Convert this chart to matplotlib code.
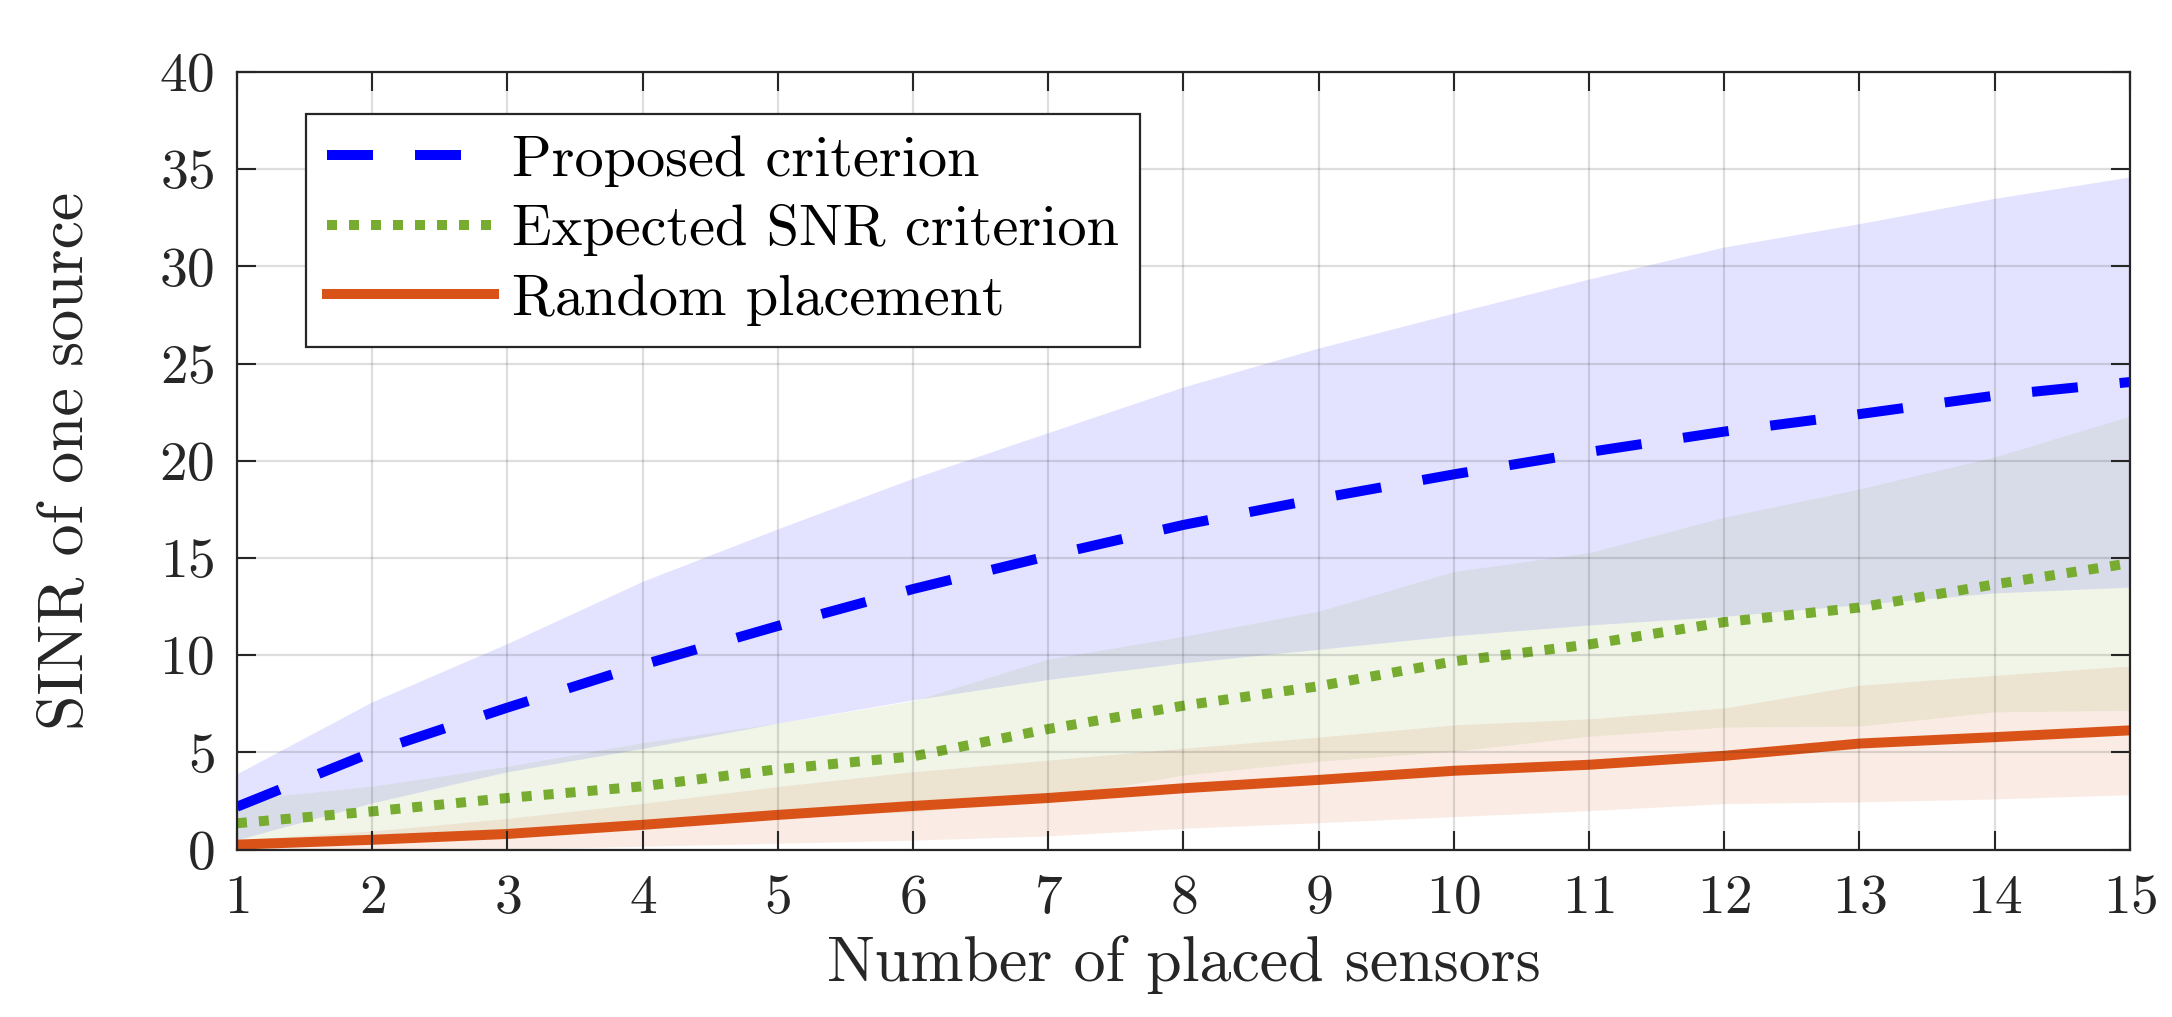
import matplotlib
matplotlib.use("Agg")
import matplotlib.pyplot as plt
import numpy as np

plt.rcParams["font.family"] = "serif"
plt.rcParams["font.serif"] = ["cmr10"]
plt.rcParams["mathtext.fontset"] = "cm"
plt.rcParams["axes.formatter.use_mathtext"] = True

# data (mean and spread of each method)
n_sensors = np.arange(1, 16)
proposed_mean = [2.2, 5.0, 7.3, 9.5, 11.5, 13.4, 15.1, 16.7, 18.05, 19.3, 20.45, 21.5, 22.4, 23.35, 24.05]
proposed_std = [1.7, 2.6, 3.3, 4.3, 5.0, 5.7, 6.35, 7.1, 7.75, 8.3, 8.9, 9.5, 9.8, 10.15, 10.55]
snr_mean = [1.35, 1.96, 2.65, 3.25, 4.13, 4.79, 6.2, 7.4, 8.4, 9.68, 10.55, 11.7, 12.45, 13.64, 14.73]
snr_std = [1.2, 1.3, 1.63, 2.25, 2.37, 2.86, 3.6, 3.57, 3.86, 4.62, 4.72, 5.4, 6.1, 6.56, 7.57]
random_mean = [0.25, 0.5, 0.8, 1.27, 1.78, 2.24, 2.65, 3.15, 3.58, 4.05, 4.36, 4.82, 5.45, 5.78, 6.13]
random_std = [0.25, 0.45, 0.8, 1.1, 1.46, 1.76, 1.95, 2.06, 2.2, 2.36, 2.36, 2.46, 3.0, 3.18, 3.31]

labels = ["Proposed criterion", "Expected SNR criterion", "Random placement"]
c_blue = "#0000FF"
c_green = "#77AC30"
c_orange = "#D95319"
txt = "#262626"

fig = plt.figure(figsize=(21.72, 10.17), dpi=100)
ax = fig.add_axes([0.1091, 0.1647, 0.8715, 0.7645])

# shaded bands (mean +- std)
for m, s, c in [(proposed_mean, proposed_std, c_blue),
                (snr_mean, snr_std, c_green),
                (random_mean, random_std, c_orange)]:
    m = np.array(m)
    s = np.array(s)
    ax.fill_between(n_sensors, m - s, m + s, color=c, alpha=0.11, linewidth=0)

lw = 7.2
ax.plot(n_sensors, proposed_mean, color=c_blue, lw=lw, dashes=(4.6, 4.2),
        dash_capstyle="butt", label=labels[0])
ax.plot(n_sensors, snr_mean, color=c_green, lw=lw, dashes=(1.0, 1.2),
        dash_capstyle="butt", label=labels[1])
ax.plot(n_sensors, random_mean, color=c_orange, lw=lw, label=labels[2])

ax.set_xlim(1, 15)
ax.set_ylim(0, 40)
ax.set_xticks(n_sensors)
ax.set_yticks(np.arange(0, 41, 5))

ax.set_axisbelow(False)
ax.grid(True, color="#262626", alpha=0.15, linewidth=1.6)
ax.tick_params(direction="in", length=14, width=1.5, colors=txt,
               labelsize=40, top=True, right=True)
ax.tick_params(axis="x", pad=18)
ax.tick_params(axis="y", pad=16)
for sp in ax.spines.values():
    sp.set_color(txt)
    sp.set_linewidth(1.6)

ax.set_xlabel("Number of placed sensors", fontsize=46, color=txt, labelpad=8)
ax.set_ylabel("SINR of one source", fontsize=46, color=txt, labelpad=46)

leg = ax.legend(loc="upper left", bbox_to_anchor=(0.0365, 0.946), borderaxespad=0,
                fontsize=42, handlelength=2.86, handletextpad=0.31,
                labelspacing=0.3, borderpad=0.36, fancybox=False, framealpha=1)
leg.get_frame().set_edgecolor(txt)
leg.get_frame().set_linewidth(1.6)
for t in leg.get_texts():
    t.set_color("black")

fig.savefig("out.png", dpi=100)
